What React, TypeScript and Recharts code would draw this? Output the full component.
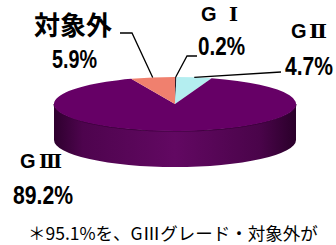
import { PieChart, Pie } from "recharts";

// shares by grade, clockwise from 12 o'clock
const grades = ["GⅠ", "GⅡ", "GⅢ", "対象外"];
const shares = [0.2, 4.7, 89.2, 5.9];
const shareText = ["0.2%", "4.7%", "89.2%", "5.9%"];
const sliceColors = ["#2b1f2b", "#b4eef0", "#660066", "#f0806e"];
const footnote = "＊95.1%を、GⅢグレード・対象外が";

const data = grades.map((name, i) => ({ name, value: shares[i], fill: sliceColors[i] }));

// tilt and thickness of the 3d disc
const TILT = 0.223;
const DEPTH = 36;

// where each label sits (name left/baseline, numeral left/width, value left/baseline/width, leader elbow points)
const labelLayout = [
  { nx: 201, ny: 21, rx: 229, rw: 9, vx: 198, vy: 55, vw: 47, elbow: [[187, 56], [197, 56]] },
  { nx: 291, ny: 38, rx: 309, rw: 18, vx: 285, vy: 75, vw: 48, elbow: [[281, 72]] },
  { nx: 20, ny: 168, rx: 39, rw: 23, vx: 13, vy: 204, vw: 60, elbow: [] },
  { nx: 34, ny: 35, rx: 0, rw: 0, vx: 52, vy: 68, vw: 45, elbow: [[132, 33], [120, 33]] },
];

const ellPt = (cx: number, cy: number, rx: number, ry: number, a: number, dy = 0) => {
  const r = (a * Math.PI) / 180;
  return [cx + rx * Math.cos(r), cy - ry * Math.sin(r) + dy];
};

const Slice3D = (props: any) => {
  const { cx, cy, outerRadius, startAngle, endAngle, fill } = props;
  const rx = outerRadius;
  const ry = outerRadius * TILT;
  const s = ellPt(cx, cy, rx, ry, startAngle);
  const e = ellPt(cx, cy, rx, ry, endAngle);
  const large = Math.abs(startAngle - endAngle) > 180 ? 1 : 0;
  const top = `M${cx},${cy} L${s[0]},${s[1]} A${rx},${ry} 0 ${large} 1 ${e[0]},${e[1]} Z`;

  // visible side = front half of the rim (angles between 0 and -180)
  const a1 = Math.min(startAngle, 0);
  const a2 = Math.max(endAngle, -180);
  let side = null;
  if (a1 > a2) {
    const p1 = ellPt(cx, cy, rx, ry, a1);
    const p2 = ellPt(cx, cy, rx, ry, a2);
    const d =
      `M${p1[0]},${p1[1]} A${rx},${ry} 0 0 1 ${p2[0]},${p2[1]} ` +
      `L${p2[0]},${p2[1] + DEPTH} A${rx},${ry} 0 0 0 ${p1[0]},${p1[1] + DEPTH} Z`;
    const rim = `M${p1[0]},${p1[1]} A${rx},${ry} 0 0 1 ${p2[0]},${p2[1]}`;
    side = (
      <g>
        <defs>
          <linearGradient id="sideGrad" x1="0" x2="1" y1="0" y2="0">
            <stop offset="0%" stopColor="#2e002e" />
            <stop offset="12%" stopColor="#4e044e" />
            <stop offset="50%" stopColor="#620862" />
            <stop offset="85%" stopColor="#4a044a" />
            <stop offset="100%" stopColor="#2a002a" />
          </linearGradient>
        </defs>
        <path d={d} fill="url(#sideGrad)" />
        <path d={rim} fill="none" stroke="#3a003a" strokeWidth={1.2} />
      </g>
    );
  }
  return (
    <g>
      {side}
      <path d={top} fill={fill} />
    </g>
  );
};

const renderLabel = (props: any) => {
  const { cx, cy, outerRadius, midAngle, index } = props;
  const lay = labelLayout[index];
  const name = grades[index];
  const anchor = ellPt(cx, cy, outerRadius, outerRadius * TILT, midAngle);
  const pts = [anchor, ...lay.elbow];
  const isLatin = name.startsWith("G");
  return (
    <g key={`lbl-${index}`}>
      {pts.length > 1 && (
        <polyline
          points={pts.map((p) => p.join(",")).join(" ")}
          fill="none"
          stroke="#000"
          strokeWidth={1.3}
        />
      )}
      {isLatin ? (
        <g>
          <text x={lay.nx} y={lay.ny} fill="#000" fontWeight="bold" fontFamily="Liberation Sans, Arial, sans-serif" fontSize={20}>
            G
          </text>
          <text
            x={lay.rx}
            y={lay.ny}
            fill="#000"
            fontWeight="bold"
            fontFamily="DejaVu Serif"
            fontSize={19}
            textLength={lay.rw}
            lengthAdjust="spacingAndGlyphs"
          >
            {name.slice(1)}
          </text>
        </g>
      ) : (
        <text x={lay.nx} y={lay.ny} fill="#000" fontWeight="bold" fontFamily="Noto Sans CJK JP" fontSize={26}>
          {name}
        </text>
      )}
      <text
        x={lay.vx}
        y={lay.vy}
        fill="#000"
        fontWeight="bold"
        fontFamily="Liberation Sans, Arial, sans-serif"
        fontSize={25}
        textLength={lay.vw}
        lengthAdjust="spacingAndGlyphs"
      >
        {shareText[index]}
      </text>
    </g>
  );
};

export default function App() {
  return (
    <div style={{ position: "absolute", left: 0, top: 0, width: 336, height: 245, overflow: "hidden", background: "#fff" }}>
      <PieChart width={336} height={245} margin={{ top: 0, right: 0, bottom: 0, left: 0 }}>
        <Pie
          data={data}
          dataKey="value"
          nameKey="name"
          cx={175}
          cy={104}
          innerRadius={0}
          outerRadius={121}
          startAngle={90}
          endAngle={-270}
          stroke="none"
          shape={Slice3D}
          label={renderLabel}
          labelLine={false}
          isAnimationActive={false}
        />
      </PieChart>
      <svg width={336} height={245} style={{ position: "absolute", left: 0, top: 0, pointerEvents: "none" }}>
        <text x={28} y={240} fontFamily="Noto Sans CJK JP" fontSize={17.5} fill="#000">
          {footnote}
        </text>
      </svg>
    </div>
  );
}
